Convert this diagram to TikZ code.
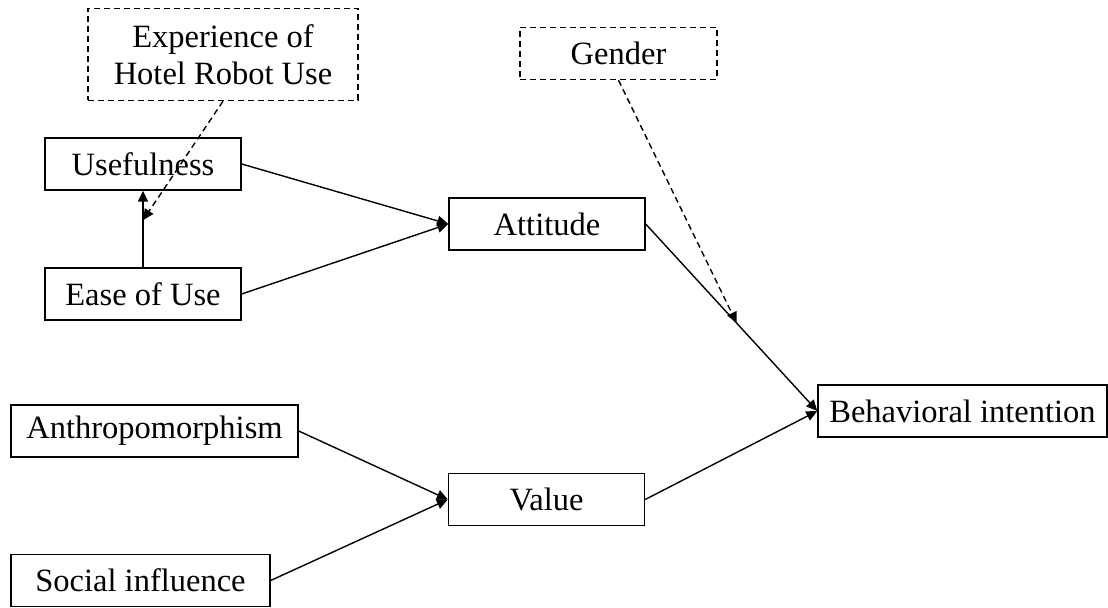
\documentclass[tikz,border=0pt]{standalone}
\usepackage{fontspec}
\setmainfont{Liberation Serif}
\usepackage{tikz}
\usetikzlibrary{arrows.meta,positioning,calc}
\tikzset{%
  box/.style={draw,align=center,minimum height=26pt,inner sep=0pt,line width=0.7pt},
  arrow/.style={-{Triangle[length=5.5pt,width=5pt]}, line width=0.7pt}%
}

\begin{document}
\begin{tikzpicture}[
    x=0.5pt, y=-0.5pt,
    font=\fontsize{16.25}{18.5}\selectfont,
    factor/.style={
        box,
        minimum width=98pt
    },
    modbox/.style={
        box,
        dash pattern=on 3pt off 2pt
    },
    modarrow/.style={arrow, dash pattern=on 3pt off 2pt}
]
\useasboundingbox (0,0) rectangle (1108,608);

% Moderators
\node[modbox, minimum width=135pt, minimum height=46pt] (exp) at (223,54.5) {Experience of\\Hotel Robot Use};
\node[modbox, minimum width=98.5pt] (gender) at (618.5,53.5) {Gender};

% Upper branch
\node[factor] (useful) at (143,164) {Usefulness};
\node[factor] (ease) at (143,294) {Ease of Use};
\node[factor] (attitude) at (547,224) {Attitude};

% Lower branch
\node[box, minimum width=143.5pt] (anthro) at (154.5,431) {Anthropomorphism};
\node[box, minimum width=129.5pt] (social) at (140.5,580.5) {Social influence};
\node[factor] (value) at (546.5,499.5) {Value};

% Outcome
\node[box, minimum width=144.5pt] (intention) at (962.5,411) {Behavioral intention};

\draw[arrow] (ease.north) -- (useful.south);
\draw[arrow] (useful.east) -- (attitude.west);
\draw[arrow] (ease.east) -- (attitude.west);
\draw[arrow] (anthro.east) -- (value.west);
\draw[arrow] (social.east) -- (value.west);
\draw[arrow] (attitude.east) -- (intention.west);
\draw[arrow] (value.east) -- (intention.west);

% Moderating effects
\coordinate (expmod) at ($(ease.north)!0.615!(useful.south)$);
\coordinate (gendermod) at ($(attitude.east)!0.53!(intention.west)$);
\draw[modarrow] (exp.south) -- (expmod);
\draw[modarrow] (gender.south) -- (gendermod);

\end{tikzpicture}
\end{document}
